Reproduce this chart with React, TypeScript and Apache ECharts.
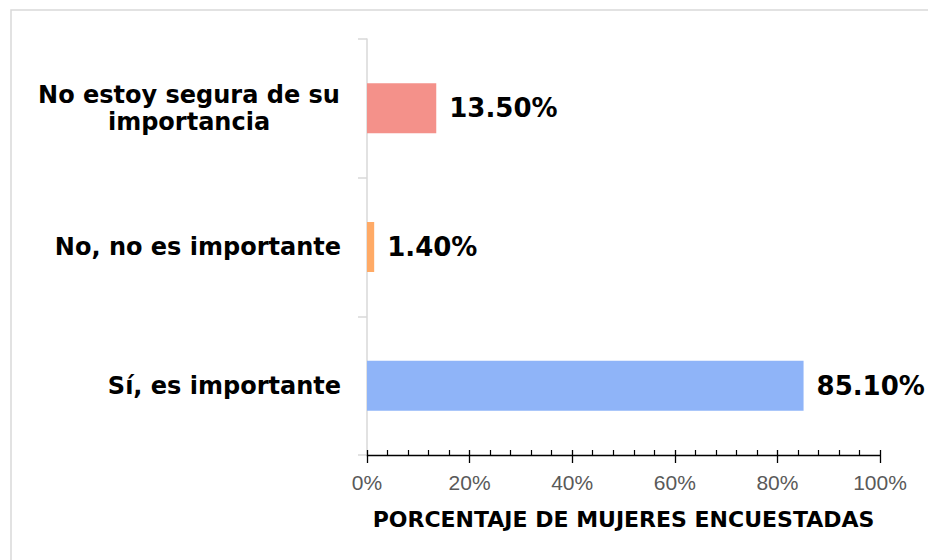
import React, { useEffect, useRef } from "react";
import * as echarts from "echarts";

const categories = [
  "Sí, es importante",
  "No, no es importante",
  "No estoy segura de su\nimportancia",
];
const values = [85.1, 1.4, 13.5];
const barColors = ["#8FB4F8", "#FFAA66", "#F4918A"];
const axisTitle = "PORCENTAJE DE MUJERES ENCUESTADAS";

const BOLD = "'DejaVu Sans', sans-serif";
const REG = "'Liberation Sans', Arial, sans-serif";

export default function App() {
  const ref = useRef<HTMLDivElement>(null);
  useEffect(() => {
    if (!ref.current) return;
    const chart = echarts.init(ref.current, null, { renderer: "svg" });
    const catStyle = {
      fontFamily: BOLD,
      fontWeight: "bold",
      fontSize: 24,
      color: "#000000",
      lineHeight: 27,
    };
    chart.setOption({
      animation: false,
      backgroundColor: "#ffffff",
      graphic: [
        {
          type: "rect",
          shape: { x: 11, y: 10, width: 1000, height: 600 },
          style: { fill: "none", stroke: "#d9d9d9", lineWidth: 1.5 },
          silent: true,
          z: -10,
        },
      ],
      grid: { left: 367, right: 48, top: 39, bottom: 105, containLabel: false },
      xAxis: [
        {
          type: "value",
          min: 0,
          max: 100,
          interval: 20,
          position: "bottom",
          axisLine: { show: true, lineStyle: { color: "#000000", width: 1.3 } },
          axisTick: { show: true, inside: true, length: 5, lineStyle: { color: "#000000", width: 1.3 } },
          minorTick: { show: true, splitNumber: 5, length: 5, lineStyle: { color: "#000000", width: 1.2 } },
          axisLabel: { show: false },
          splitLine: { show: false },
          minorSplitLine: { show: false },
        },
        {
          type: "value",
          min: 0,
          max: 100,
          interval: 20,
          position: "bottom",
          offset: 0,
          axisLine: { show: false },
          axisTick: { show: true, length: 8, lineStyle: { color: "#000000", width: 1.3 } },
          axisLabel: {
            formatter: "{value}%",
            margin: 17,
            fontSize: 21,
            color: "#595959",
            fontFamily: REG,
          },
          splitLine: { show: false },
          name: axisTitle,
          nameLocation: "middle",
          nameGap: 53,
          nameTextStyle: {
            fontFamily: BOLD,
            fontWeight: "bold",
            fontSize: 22,
            color: "#000000",
          },
        },
      ],
      yAxis: {
        type: "category",
        data: categories,
        axisLine: { show: true, lineStyle: { color: "#d9d9d9", width: 1.5 } },
        axisTick: { show: true, length: 9, lineStyle: { color: "#d9d9d9", width: 1.5 } },
        axisLabel: {
          margin: 26,
          align: "right",
          formatter: (v: string) => (v.indexOf("\n") >= 0 ? `{m|${v}}` : `{a|${v}}`),
          rich: {
            a: { ...catStyle },
            m: { ...catStyle, width: 304, align: "center" },
          },
        },
        splitLine: { show: false },
      },
      series: [
        {
          type: "bar",
          xAxisIndex: 0,
          barWidth: 50,
          data: values.map((v, i) => ({ value: v, itemStyle: { color: barColors[i] } })),
          label: {
            show: true,
            position: "right",
            distance: 13,
            formatter: (p: any) => `${Number(p.value).toFixed(2)}%`,
            fontFamily: BOLD,
            fontWeight: "bold",
            fontSize: 26,
            color: "#000000",
          },
        },
      ],
    });
    return () => chart.dispose();
  }, []);
  return (
    <div
      ref={ref}
      style={{ position: "absolute", left: 0, top: 0, width: 928, height: 560 }}
    />
  );
}
